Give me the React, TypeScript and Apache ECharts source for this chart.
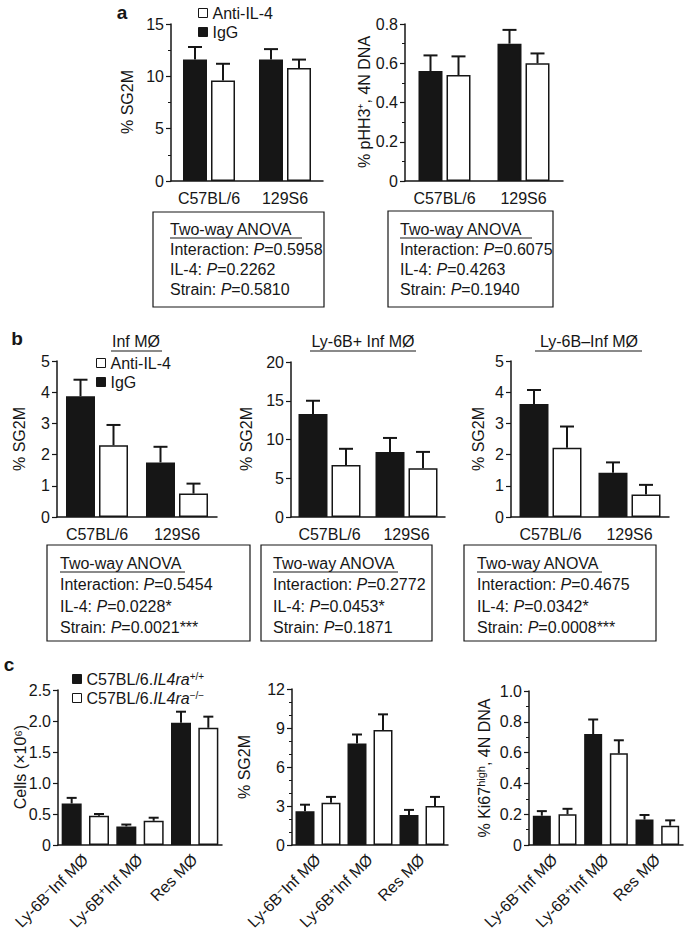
import React, { useEffect, useRef } from 'react';
import * as echarts from 'echarts';

// ---------- data ----------
const strains = ['C57BL/6', '129S6'];
const treatNames = ['IgG', 'Anti-IL-4'];

// panel a
const aSG2M_IgG = [11.6, 11.6];
const aSG2M_IgG_sem = [1.2, 1.0];
const aSG2M_Anti = [9.6, 10.8];
const aSG2M_Anti_sem = [1.6, 0.8];

const aPHH3_IgG = [0.56, 0.7];
const aPHH3_IgG_sem = [0.08, 0.07];
const aPHH3_Anti = [0.54, 0.6];
const aPHH3_Anti_sem = [0.095, 0.05];

// panel b
const bInf_IgG = [3.87, 1.75];
const bInf_IgG_sem = [0.53, 0.5];
const bInf_Anti = [2.3, 0.75];
const bInf_Anti_sem = [0.65, 0.32];

const bPos_IgG = [13.3, 8.4];
const bPos_IgG_sem = [1.7, 1.8];
const bPos_Anti = [6.7, 6.3];
const bPos_Anti_sem = [2.1, 2.1];

const bNeg_IgG = [3.62, 1.42];
const bNeg_IgG_sem = [0.45, 0.33];
const bNeg_Anti = [2.22, 0.72];
const bNeg_Anti_sem = [0.68, 0.31];

// panel c
const cTypes = ['Ly-6B\u207BInf M\u00D8', 'Ly-6B\u207AInf M\u00D8', 'Res M\u00D8'];
const cTypesRich = ['Ly-6B{s|\u2212}Inf M\u00D8', 'Ly-6B{s|+}Inf M\u00D8', 'Res M\u00D8'];
const genoNames = ['C57BL/6.IL4ra+/+', 'C57BL/6.IL4ra\u2212/\u2212'];

const cCells_WT = [0.67, 0.3, 1.97];
const cCells_WT_sem = [0.09, 0.03, 0.18];
const cCells_KO = [0.47, 0.39, 1.89];
const cCells_KO_sem = [0.03, 0.05, 0.18];

const cSG2M_WT = [2.6, 7.8, 2.3];
const cSG2M_WT_sem = [0.5, 0.7, 0.4];
const cSG2M_KO = [3.25, 8.85, 3.0];
const cSG2M_KO_sem = [0.45, 1.2, 0.7];

const cKi67_WT = [0.19, 0.72, 0.165];
const cKi67_WT_sem = [0.03, 0.095, 0.03];
const cKi67_KO = [0.2, 0.595, 0.125];
const cKi67_KO_sem = [0.035, 0.085, 0.035];

// ANOVA texts
const anovaA1 = ['Interaction: P=0.5958', 'IL-4: P=0.2262', 'Strain: P=0.5810'];
const anovaA2 = ['Interaction: P=0.6075', 'IL-4: P=0.4263', 'Strain: P=0.1940'];
const anovaB1 = ['Interaction: P=0.5454', 'IL-4: P=0.0228*', 'Strain: P=0.0021***'];
const anovaB2 = ['Interaction: P=0.2772', 'IL-4: P=0.0453*', 'Strain: P=0.1871'];
const anovaB3 = ['Interaction: P=0.4675', 'IL-4: P=0.0342*', 'Strain: P=0.0008***'];

const bTitles = ['Inf M\u00D8', 'Ly-6B+ Inf M\u00D8', 'Ly-6B\u2013Inf M\u00D8'];

// ---------- styling helpers ----------
const FONT = '"Liberation Sans", Arial, Helvetica, sans-serif';
const INK = '#161616';
const FS = 16;

const dec1 = (v: number) => (v === 0 ? '0' : v.toFixed(1));

function yAxisCfg(gridIndex: number, max: number, interval: number, minorSplit: number, fmt?: any) {
  return {
    type: 'value',
    gridIndex,
    min: 0,
    max,
    interval,
    axisLine: { show: true, lineStyle: { color: INK, width: 1.5 } },
    axisTick: { show: true, length: 5, lineStyle: { color: INK, width: 1.2 } },
    minorTick: { show: minorSplit > 0, splitNumber: minorSplit || 2, length: 3, lineStyle: { color: INK, width: 1 } },
    splitLine: { show: false },
    axisLabel: { color: INK, fontSize: FS, fontFamily: FONT, margin: 7, formatter: fmt },
  };
}

function errSeries(xi: number, yi: number, data: number[][], offset: number, cap: number) {
  return {
    type: 'custom',
    xAxisIndex: xi,
    yAxisIndex: yi,
    data,
    encode: { x: 0, y: [1, 2] },
    silent: true,
    z: 3,
    renderItem: (params: any, api: any) => {
      const p0 = api.coord([api.value(0), api.value(1)]);
      const p1 = api.coord([api.value(0), api.value(2)]);
      const cx = p0[0] + offset;
      return {
        type: 'group',
        children: [
          { type: 'line', shape: { x1: cx, y1: p0[1], x2: cx, y2: p1[1] }, style: { stroke: INK, lineWidth: 2 } },
          { type: 'line', shape: { x1: cx - cap, y1: p1[1], x2: cx + cap, y2: p1[1] }, style: { stroke: INK, lineWidth: 2 } },
        ],
      };
    },
  };
}

function addGrouped(opt: any, grid: any, y: any, igg: number[], iggSem: number[], anti: number[], antiSem: number[], bw: number, gap: number, cap: number) {
  const gi = opt.grid.length;
  opt.grid.push(grid);
  const xi = opt.xAxis.length;
  opt.xAxis.push({
    type: 'category',
    gridIndex: gi,
    data: strains,
    axisLine: { lineStyle: { color: INK, width: 1.5 } },
    axisTick: { alignWithLabel: true, length: 5, lineStyle: { color: INK, width: 1.2 } },
    axisLabel: { color: INK, fontSize: FS, fontFamily: FONT, margin: 9, interval: 0, hideOverlap: false },
  });
  const yi = opt.yAxis.length;
  opt.yAxis.push(yAxisCfg(gi, y.max, y.interval, y.minor, y.fmt));
  const gapPct = `${((gap / bw) * 100).toFixed(1)}%`;
  opt.series.push({
    type: 'bar', name: treatNames[0], xAxisIndex: xi, yAxisIndex: yi, data: igg, barWidth: bw, barGap: gapPct,
    itemStyle: { color: INK, borderColor: INK, borderWidth: 1.5 },
  });
  opt.series.push({
    type: 'bar', name: treatNames[1], xAxisIndex: xi, yAxisIndex: yi, data: anti, barWidth: bw, barGap: gapPct,
    itemStyle: { color: '#ffffff', borderColor: INK, borderWidth: 1.5 },
  });
  const off = (bw + gap) / 2;
  opt.series.push(errSeries(xi, yi, igg.map((v, i) => [i, v, v + iggSem[i]]), -off, cap));
  opt.series.push(errSeries(xi, yi, anti.map((v, i) => [i, v, v + antiSem[i]]), off, cap));
}

function addGeno(opt: any, grid: any, y: any, wt: number[], wtSem: number[], ko: number[], koSem: number[], bw: number, cap: number) {
  const gi = opt.grid.length;
  opt.grid.push(grid);
  const slots = cTypes.flatMap((t) => [t + ' ' + genoNames[0], t + ' ' + genoNames[1]]);
  const xi = opt.xAxis.length;
  opt.xAxis.push({
    type: 'category',
    gridIndex: gi,
    data: slots,
    position: 'bottom',
    axisLine: { lineStyle: { color: INK, width: 1.5 } },
    axisTick: { alignWithLabel: true, length: 5, lineStyle: { color: INK, width: 1.2 } },
    axisLabel: { show: false },
  });
  opt.xAxis.push({
    type: 'category',
    gridIndex: gi,
    data: cTypes,
    position: 'bottom',
    axisLine: { show: false },
    axisTick: { show: false },
    axisLabel: {
      color: INK,
      fontSize: FS,
      fontFamily: FONT,
      rotate: 45,
      margin: 12,
      interval: 0,
      formatter: (v: string) => cTypesRich[cTypes.indexOf(v)] ?? v,
      rich: {
        s: { fontSize: 11, fontFamily: FONT, color: INK, verticalAlign: 'top', lineHeight: 18 },
      },
      lineHeight: 18,
    },
  });
  const yi = opt.yAxis.length;
  opt.yAxis.push(yAxisCfg(gi, y.max, y.interval, y.minor, y.fmt));
  const wtData = cTypes.flatMap((_, i) => [wt[i], '-']);
  const koData = cTypes.flatMap((_, i) => ['-', ko[i]]);
  opt.series.push({
    type: 'bar', name: genoNames[0], xAxisIndex: xi, yAxisIndex: yi, data: wtData, barWidth: bw, barGap: '-100%',
    itemStyle: { color: INK, borderColor: INK, borderWidth: 1.5 },
  });
  opt.series.push({
    type: 'bar', name: genoNames[1], xAxisIndex: xi, yAxisIndex: yi, data: koData, barWidth: bw, barGap: '-100%',
    itemStyle: { color: '#ffffff', borderColor: INK, borderWidth: 1.5 },
  });
  opt.series.push(errSeries(xi, yi, wt.map((v, i) => [2 * i, v, v + wtSem[i]]), 0, cap));
  opt.series.push(errSeries(xi, yi, ko.map((v, i) => [2 * i + 1, v, v + koSem[i]]), 0, cap));
}

function txt(x: number, y: number, text: string, extra: any = {}, rot = 0) {
  return {
    type: 'text',
    x,
    y,
    rotation: rot,
    style: { text, fontSize: FS, fontFamily: FONT, fill: INK, align: 'center', verticalAlign: 'middle', ...extra },
  };
}

function hline(x1: number, x2: number, y: number, w = 1.2) {
  return { type: 'line', shape: { x1, y1: y, x2, y2: y }, style: { stroke: INK, lineWidth: w } };
}

function anovaBox(x: number, y: number, w: number, h: number, tx: number, ty0: number, dy: number, lines: string[], ulEnd: number) {
  const out: any[] = [
    { type: 'rect', shape: { x, y, width: w, height: h }, style: { fill: 'none', stroke: INK, lineWidth: 1.2 } },
    txt(tx, ty0, 'Two-way ANOVA', { align: 'left', fontSize: 16 }),
    hline(tx, ulEnd, ty0 + 9),
  ];
  lines.forEach((l, i) => {
    out.push(
      txt(tx, ty0 + dy * (i + 1), l.replace('P=', '{i|P}='), {
        align: 'left',
        fontSize: 16,
        rich: { i: { fontStyle: 'italic', fontSize: 16, fontFamily: FONT, fill: INK } },
      })
    );
  });
  return out;
}

function buildOption() {
  const opt: any = {
    animation: false,
    backgroundColor: '#ffffff',
    textStyle: { fontFamily: FONT, color: INK },
    grid: [],
    xAxis: [],
    yAxis: [],
    series: [],
  };

  // a
  addGrouped(opt, { left: 171, top: 24, width: 152, height: 157 }, { max: 15, interval: 5, minor: 2 },
    aSG2M_IgG, aSG2M_IgG_sem, aSG2M_Anti, aSG2M_Anti_sem, 24, 4, 7);
  addGrouped(opt, { left: 405, top: 24, width: 158, height: 157 }, { max: 0.8, interval: 0.2, minor: 2, fmt: dec1 },
    aPHH3_IgG, aPHH3_IgG_sem, aPHH3_Anti, aPHH3_Anti_sem, 24, 4, 7);
  // b
  addGrouped(opt, { left: 57, top: 361, width: 160, height: 156 }, { max: 5, interval: 1, minor: 0 },
    bInf_IgG, bInf_IgG_sem, bInf_Anti, bInf_Anti_sem, 29, 4, 7);
  addGrouped(opt, { left: 291, top: 362, width: 154, height: 155 }, { max: 20, interval: 5, minor: 0 },
    bPos_IgG, bPos_IgG_sem, bPos_Anti, bPos_Anti_sem, 29, 4, 7);
  addGrouped(opt, { left: 511, top: 361, width: 158, height: 156 }, { max: 5, interval: 1, minor: 0 },
    bNeg_IgG, bNeg_IgG_sem, bNeg_Anti, bNeg_Anti_sem, 29, 4, 7);
  // c
  addGeno(opt, { left: 58, top: 690, width: 164, height: 155 }, { max: 2.5, interval: 0.5, minor: 0, fmt: dec1 },
    cCells_WT, cCells_WT_sem, cCells_KO, cCells_KO_sem, 20, 5);
  addGeno(opt, { left: 292, top: 689, width: 156, height: 156 }, { max: 12, interval: 3, minor: 3 },
    cSG2M_WT, cSG2M_WT_sem, cSG2M_KO, cSG2M_KO_sem, 19, 5);
  addGeno(opt, { left: 529, top: 691, width: 154, height: 154 }, { max: 1.0, interval: 0.2, minor: 2, fmt: dec1 },
    cKi67_WT, cKi67_WT_sem, cKi67_KO, cKi67_KO_sem, 18, 5);

  const legendItem = (name: string, black: boolean) => ({
    name,
    icon: 'rect',
    itemStyle: { color: black ? INK : '#ffffff', borderColor: INK, borderWidth: 1 },
  });
  const legBase = {
    orient: 'vertical',
    itemWidth: 9,
    itemHeight: 9,
    itemGap: 3,
    selectedMode: false,
    padding: 0,
    textStyle: { fontSize: FS, fontFamily: FONT, color: INK, lineHeight: 16 },
  };
  opt.legend = [
    { ...legBase, left: 198, top: 5, data: [legendItem(treatNames[1], false), legendItem(treatNames[0], true)] },
    { ...legBase, left: 96, top: 355, data: [legendItem(treatNames[1], false), legendItem(treatNames[0], true)] },
    {
      ...legBase,
      left: 72,
      top: 671,
      data: [legendItem(genoNames[0], true), legendItem(genoNames[1], false)],
      formatter: (name: string) =>
        name === genoNames[0] ? '{n|C57BL/6.}{i|IL4ra}{s|+/+}' : '{n|C57BL/6.}{i|IL4ra}{s|\u2212/\u2212}',
      textStyle: {
        fontSize: FS,
        fontFamily: FONT,
        color: INK,
        rich: {
          n: { fontSize: FS, fontFamily: FONT, color: INK, lineHeight: 16 },
          i: { fontSize: FS, fontFamily: FONT, color: INK, fontStyle: 'italic', lineHeight: 16 },
          s: { fontSize: 10, fontFamily: FONT, color: INK, verticalAlign: 'top', lineHeight: 16 },
        },
      },
    },
  ];

  const R = Math.PI / 2;
  const graphics: any[] = [
    // panel letters
    txt(122, 12, 'a', { fontWeight: 'bold', fontSize: 19 }),
    txt(17, 338, 'b', { fontWeight: 'bold', fontSize: 19 }),
    txt(9, 664, 'c', { fontWeight: 'bold', fontSize: 19 }),
    // y-axis names
    txt(127, 102, '% SG2M', { fontSize: 16 }, R),
    txt(364, 102, '% pHH3\u207A, 4N DNA', { fontSize: 16 }, R),
    txt(19, 439, '% SG2M', { fontSize: 16 }, R),
    txt(246, 439, '% SG2M', { fontSize: 16 }, R),
    txt(478, 439, '% SG2M', { fontSize: 16 }, R),
    txt(20, 767, 'Cells (\u00D710\u2076)', { fontSize: 16 }, R),
    txt(244, 767, '% SG2M', { fontSize: 16 }, R),
    txt(
      484,
      768,
      '% Ki67{s|high}, 4N DNA',
      {
        fontSize: 16,
        rich: { s: { fontSize: 11, fontFamily: FONT, fill: INK, verticalAlign: 'top', lineHeight: 18 } },
        lineHeight: 18,
      },
      R
    ),
    // panel b titles
    txt(136, 341, bTitles[0]),
    hline(111, 162, 351),
    txt(363, 341, bTitles[1]),
    hline(310, 416, 351),
    txt(589, 341, bTitles[2]),
    hline(535, 642, 351),
    // ANOVA boxes
    ...anovaBox(153, 212, 171, 95, 170, 229, 20, anovaA1, 302),
    ...anovaBox(388, 211, 165, 96, 400, 229, 20, anovaA2, 532),
    ...anovaBox(47, 545, 203, 96, 60, 563, 21.5, anovaB1, 185),
    ...anovaBox(261, 545, 171, 96, 273, 563, 21.5, anovaB2, 398),
    ...anovaBox(464, 545, 192, 96, 477, 563, 21.5, anovaB3, 602),
  ];
  opt.graphic = graphics;
  return opt;
}

export default function App() {
  const ref = useRef<HTMLDivElement>(null);
  useEffect(() => {
    if (!ref.current) return;
    const chart = echarts.init(ref.current, undefined, { renderer: 'svg' });
    chart.setOption(buildOption());
    return () => chart.dispose();
  }, []);
  return (
    <div
      ref={ref}
      style={{ position: 'absolute', left: 0, top: 0, width: 685, height: 936, background: '#fff' }}
    />
  );
}
